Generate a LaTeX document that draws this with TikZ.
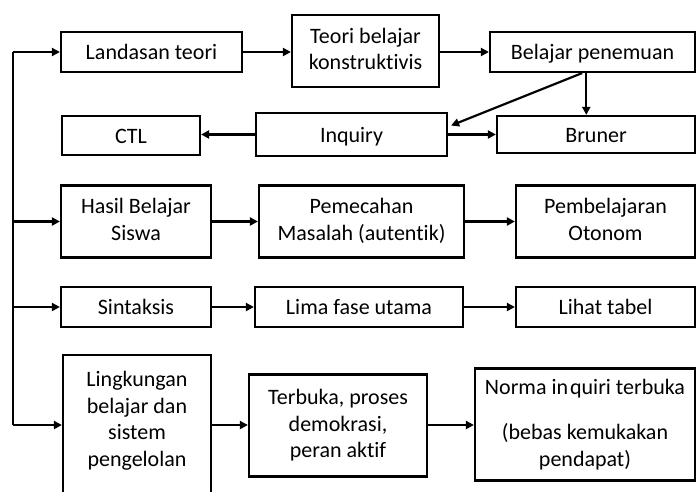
\documentclass[tikz,border=0pt]{standalone}
\usepackage{fontspec}
\setmainfont{Carlito}[RawFeature=-liga]
\usetikzlibrary{arrows.meta,calc}
\newcommand\boxstrut{\rule[-4pt]{0pt}{23pt}}
\begin{document}
\begin{tikzpicture}[x=1pt,y=-1pt,
  box/.style={draw,line width=2.2pt,inner sep=0pt,align=center,
    execute at begin node=\boxstrut, execute at end node=\boxstrut,
    font=\fontsize{22pt}{26.5pt}\selectfont},
  arr/.style={line width=2.2pt,-{Triangle[length=8pt,width=8pt]}},
  ln/.style={line width=2.2pt}]
\clip (0,0) rectangle (696,491);
% row 1
\node[box,minimum width=181pt,minimum height=40pt] (landasan) at (151.5,52) {Landasan teori};
\node[box,minimum width=147pt,minimum height=72pt] (teori) at (365.5,51) {Teori belajar\\konstruktivis};
\node[box,minimum width=205pt,minimum height=40pt] (belajar) at (592.5,52) {Belajar penemuan};
% row 2
\node[box,minimum width=138pt,minimum height=39pt] (ctl) at (131,135.5) {CTL};
\node[box,minimum width=191pt,minimum height=43pt] (inquiry) at (351.5,134.5) {Inquiry};
\node[box,minimum width=198pt,minimum height=37pt] (bruner) at (596,134.5) {Bruner};
% row 3
\node[box,minimum width=150pt,minimum height=72pt] (hasil) at (136,221.5) {Hasil Belajar\\Siswa};
\node[box,minimum width=205pt,minimum height=72pt] (pemecahan) at (361.5,221.5) {Pemecahan\\Masalah (autentik)};
\node[box,minimum width=179pt,minimum height=72pt] (otonom) at (605.5,221.5) {Pembelajaran\\Otonom};
% row 4
\node[box,minimum width=150pt,minimum height=40pt] (sintaksis) at (136,307) {Sintaksis};
\node[box,minimum width=208pt,minimum height=40pt] (lima) at (359,307) {Lima fase utama};
\node[box,minimum width=179pt,minimum height=40pt] (lihat) at (605.5,307) {Lihat tabel};
% row 5
\node[box,minimum width=148pt,minimum height=150pt] (lingkungan) at (137,430) {Lingkungan\\belajar dan\\sistem\\pengelolan\rule[-22pt]{0pt}{1pt}};
\node[box,minimum width=178pt,minimum height=102pt] (terbuka) at (338,425.5) {Terbuka, proses\\demokrasi,\\peran aktif};
\node[box,minimum width=220pt,minimum height=112pt] (norma) at (585,424.5) {Norma in\kern2pt quiri terbuka\\[19pt](bebas kemukakan\\pendapat)};
% trunk
\coordinate (t1) at (13,52);
\coordinate (t4) at (13,425);
\draw[ln] (t1) -- (t4);
\draw[arr] (t1) -- (landasan.west);
\draw[arr] (t1 |- hasil.west) -- (hasil.west);
\draw[arr] (t1 |- sintaksis.west) -- (sintaksis.west);
\draw[arr] (t4) -- (t4 -| lingkungan.west);
% row arrows
\draw[arr] (landasan.east) -- (landasan.east -| teori.west);
\draw[arr] (belajar.west -| teori.east) -- (belajar.west);
\draw[arr] (inquiry.west) -- (inquiry.west -| ctl.east);
\draw[arr] (inquiry.east) -- (inquiry.east -| bruner.west);
\coordinate (bs) at ($(belajar.south west)!0.47!(belajar.south east)$);
\draw[arr] (bs) -- (bs |- bruner.north);
\draw[arr] ($(belajar.south west)!0.45!(belajar.south east)$) -- ($(inquiry.east)+(3,-9)$);
\draw[arr] (hasil.east) -- (hasil.east -| pemecahan.west);
\draw[arr] (pemecahan.east) -- (pemecahan.east -| otonom.west);
\draw[arr] (sintaksis.east) -- (sintaksis.east -| lima.west);
\draw[arr] (lima.east) -- (lima.east -| lihat.west);
\draw[arr] (t4 -| lingkungan.east) -- (t4 -| terbuka.west);
\draw[arr] (t4 -| terbuka.east) -- (t4 -| norma.west);
\end{tikzpicture}
\end{document}
